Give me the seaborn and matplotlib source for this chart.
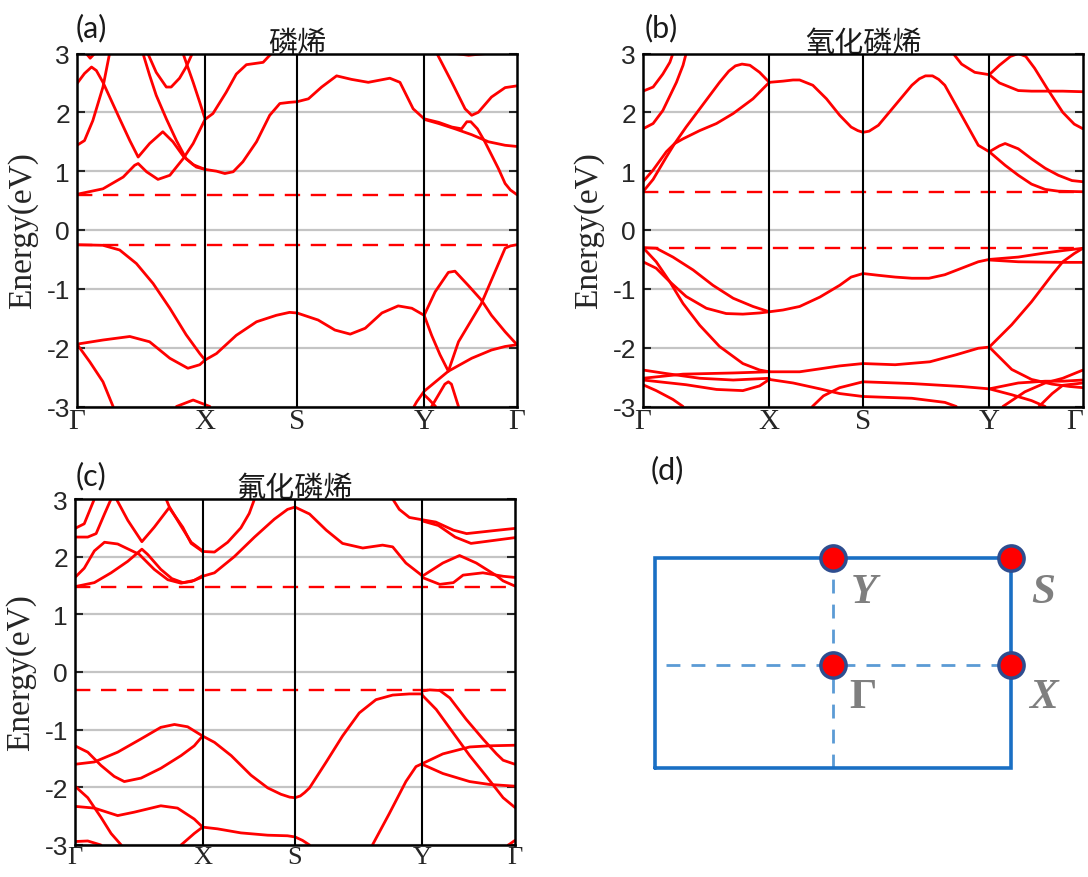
import matplotlib
matplotlib.use("Agg")
import matplotlib.pyplot as plt
import pandas as pd
import seaborn as sns

# high-symmetry path (fraction of the path length) and labels
kpath_labels = ["Γ", "X", "S", "Y", "Γ"]
kpts_a = [0, 0.291, 0.5, 0.789, 1.0]
kpts_b = [0, 0.287, 0.5, 0.787, 1.0]
kpts_c = [0, 0.29, 0.5, 0.789, 1.0]
titles = ["磷烯", "氧化磷烯", "氟化磷烯"]
panel_tags = ["(a)", "(b)", "(c)", "(d)"]
cbm = [0.60, 0.65, 1.47]
vbm = [-0.25, -0.30, -0.32]

# bands: lists of (k, energy)
bands_a = [
    [(0, -0.25), (0.059, -0.26), (0.097, -0.34), (0.135, -0.57), (0.173, -0.91), (0.211, -1.33),
     (0.248, -1.78), (0.279, -2.10), (0.291, -2.21)],
    [(0.291, -2.21), (0.317, -2.10), (0.362, -1.79), (0.408, -1.56), (0.453, -1.45), (0.483, -1.40),
     (0.5, -1.41), (0.548, -1.53), (0.586, -1.70), (0.621, -1.77), (0.655, -1.67), (0.693, -1.41),
     (0.73, -1.29), (0.761, -1.33), (0.789, -1.45)],
    [(0, -1.94), (0.059, -1.87), (0.12, -1.81), (0.165, -1.90), (0.211, -2.18), (0.252, -2.35),
     (0.279, -2.29), (0.291, -2.21)],
    [(0, -1.94), (0.029, -2.24), (0.059, -2.58), (0.082, -3.0)],
    [(0.226, -3.0), (0.264, -2.89), (0.302, -3.0)],
    [(0.789, -1.45), (0.814, -1.05), (0.844, -0.72), (0.859, -0.70), (0.889, -0.94), (0.919, -1.19),
     (0.942, -1.45), (0.973, -1.73), (1.0, -1.95)],
    [(1.0, -0.25), (0.985, -0.27), (0.973, -0.31), (0.919, -1.25), (0.867, -1.90), (0.844, -2.40)],
    [(0.789, -1.45), (0.806, -1.79), (0.825, -2.12), (0.844, -2.40)],
    [(0.766, -3.0), (0.772, -2.92), (0.789, -2.74), (0.844, -2.40), (0.897, -2.18), (0.942, -2.04),
     (0.973, -1.98), (1.0, -1.95)],
    [(0.806, -3.0), (0.836, -2.62), (0.844, -2.58), (0.851, -2.62), (0.867, -3.0)],
    [(0.789, -2.80), (0.80, -2.88), (0.815, -3.0)],
    [(0, 0.607), (0.059, 0.70), (0.105, 0.90), (0.131, 1.10), (0.139, 1.13), (0.158, 0.99),
     (0.184, 0.86), (0.211, 0.93), (0.241, 1.21), (0.264, 1.47), (0.291, 1.88), (0.309, 1.98),
     (0.339, 2.34), (0.362, 2.65), (0.385, 2.81), (0.423, 2.85), (0.438, 2.97), (0.442, 3.0)],
    [(0, 1.44), (0.017, 1.52), (0.036, 1.86), (0.059, 2.43), (0.074, 3.0)],
    [(0, 2.49), (0.017, 2.66), (0.033, 2.77), (0.044, 2.71), (0.059, 2.51), (0.097, 1.89),
     (0.12, 1.52), (0.139, 1.24), (0.165, 1.47), (0.195, 1.67), (0.218, 1.50), (0.241, 1.26),
     (0.264, 1.11), (0.291, 1.03), (0.317, 1.0), (0.336, 0.96), (0.355, 0.99), (0.377, 1.16),
     (0.408, 1.50), (0.438, 1.95), (0.461, 2.15), (0.483, 2.17), (0.5, 2.18), (0.526, 2.23),
     (0.556, 2.43), (0.59, 2.62), (0.624, 2.56), (0.662, 2.51), (0.711, 2.58), (0.734, 2.51),
     (0.764, 2.06), (0.789, 1.89), (0.822, 1.83), (0.852, 1.75), (0.874, 1.72), (0.886, 1.84),
     (0.895, 1.84), (0.91, 1.72), (0.927, 1.50), (0.958, 1.04), (0.973, 0.79), (0.985, 0.68),
     (1.0, 0.6)],
    [(0.789, 1.88), (0.822, 1.81), (0.859, 1.72), (0.897, 1.62), (0.935, 1.50), (0.973, 1.44),
     (1.0, 1.42)],
    [(0.818, 3.0), (0.852, 2.51), (0.882, 2.06), (0.897, 1.95), (0.912, 2.0), (0.942, 2.26),
     (0.973, 2.42), (1.0, 2.45)],
    [(0.15, 3.0), (0.165, 2.63), (0.18, 2.29), (0.203, 1.89), (0.226, 1.52), (0.248, 1.21),
     (0.271, 1.07), (0.291, 1.03)],
    [(0.161, 3.0), (0.18, 2.68), (0.203, 2.43), (0.214, 2.43), (0.233, 2.58), (0.248, 2.77),
     (0.262, 3.0)],
    [(0.241, 3.0), (0.248, 2.85), (0.264, 2.51), (0.279, 2.17), (0.291, 1.89)],
    [(0.021, 3.0), (0.03, 2.92), (0.04, 3.0)],
    [(0.86, 3.0), (0.89, 2.97), (0.93, 3.0)],
]

bands_b = [
    [(0, -0.30), (0.03, -0.31), (0.068, -0.46), (0.114, -0.68), (0.159, -0.94), (0.205, -1.16),
     (0.25, -1.30), (0.287, -1.39), (0.318, -1.36), (0.356, -1.30), (0.402, -1.14), (0.447, -0.94),
     (0.473, -0.80), (0.5, -0.74), (0.535, -0.77), (0.573, -0.80), (0.611, -0.82), (0.65, -0.82),
     (0.686, -0.76), (0.724, -0.65), (0.762, -0.54), (0.787, -0.50), (0.853, -0.46), (0.914, -0.39),
     (0.954, -0.35), (1.0, -0.31)],
    [(0.787, -0.51), (0.853, -0.54), (0.954, -0.55), (1.0, -0.55)],
    [(0, -0.30), (0.03, -0.54), (0.061, -0.88), (0.091, -1.25), (0.129, -1.62), (0.174, -1.98),
     (0.227, -2.27), (0.265, -2.38), (0.287, -2.41)],
    [(0, -0.54), (0.03, -0.65), (0.061, -0.88), (0.098, -1.13), (0.144, -1.33), (0.189, -1.42),
     (0.227, -1.43), (0.265, -1.41), (0.287, -1.39)],
    [(0.287, -2.41), (0.356, -2.41), (0.402, -2.36), (0.447, -2.31), (0.5, -2.27), (0.573, -2.29),
     (0.652, -2.24), (0.712, -2.12), (0.762, -2.01), (0.787, -1.99)],
    [(0.787, -1.99), (0.838, -1.61), (0.883, -1.22), (0.93, -0.76), (0.954, -0.54), (0.98, -0.40),
     (1.0, -0.31)],
    [(0.787, -1.99), (0.838, -2.37), (0.883, -2.54), (0.93, -2.62), (0.97, -2.66), (1.0, -2.68)],
    [(0, -2.38), (0.053, -2.44), (0.129, -2.52), (0.205, -2.55), (0.287, -2.52)],
    [(0, -2.52), (0.091, -2.45), (0.205, -2.43), (0.287, -2.41)],
    [(0, -2.55), (0.098, -2.63), (0.167, -2.71), (0.227, -2.73), (0.265, -2.65), (0.287, -2.54)],
    [(0, -2.63), (0.03, -2.73), (0.068, -2.88), (0.091, -3.0)],
    [(0.287, -2.54), (0.341, -2.60), (0.402, -2.70), (0.447, -2.78), (0.5, -2.83), (0.611, -2.86),
     (0.686, -2.93), (0.712, -3.0)],
    [(0.385, -3.0), (0.41, -2.82), (0.447, -2.68), (0.5, -2.58), (0.611, -2.61), (0.724, -2.66),
     (0.787, -2.70)],
    [(0.787, -2.70), (0.853, -2.60), (0.914, -2.57), (0.954, -2.57), (1.0, -2.55)],
    [(0.787, -2.70), (0.838, -2.80), (0.883, -2.90), (0.914, -3.0)],
    [(0.818, -3.0), (0.868, -2.75), (0.914, -2.60), (0.954, -2.52), (1.0, -2.38)],
    [(0.90, -3.0), (0.93, -2.78), (0.954, -2.64), (1.0, -2.60)],
    [(0, 2.36), (0.023, 2.43), (0.045, 2.65), (0.061, 2.85), (0.068, 3.0)],
    [(0, 1.72), (0.023, 1.81), (0.045, 2.03), (0.076, 2.51), (0.091, 2.80), (0.098, 3.0)],
    [(0, 0.82), (0.023, 1.02), (0.053, 1.33), (0.072, 1.47), (0.098, 1.75), (0.129, 2.06),
     (0.174, 2.51), (0.195, 2.70), (0.21, 2.79), (0.225, 2.82), (0.243, 2.80), (0.265, 2.68),
     (0.287, 2.51)],
    [(0, 0.65), (0.023, 0.86), (0.053, 1.24), (0.072, 1.47), (0.091, 1.55), (0.129, 1.69),
     (0.167, 1.81), (0.205, 1.98), (0.25, 2.23), (0.287, 2.51)],
    [(0.287, 2.51), (0.318, 2.53), (0.341, 2.55), (0.356, 2.55), (0.386, 2.46), (0.417, 2.23),
     (0.447, 1.95), (0.473, 1.75), (0.488, 1.69), (0.5, 1.66), (0.514, 1.68), (0.535, 1.78),
     (0.573, 2.12), (0.611, 2.46), (0.628, 2.57), (0.642, 2.62), (0.658, 2.62), (0.672, 2.56),
     (0.686, 2.46), (0.724, 1.95), (0.762, 1.44), (0.787, 1.33)],
    [(0.787, 1.33), (0.81, 1.43), (0.823, 1.47), (0.853, 1.38), (0.883, 1.21), (0.914, 1.05),
     (0.944, 0.93), (0.975, 0.84), (1.0, 0.82)],
    [(0.787, 1.33), (0.823, 1.10), (0.853, 0.93), (0.883, 0.78), (0.914, 0.69), (0.944, 0.66),
     (1.0, 0.65)],
    [(0.705, 3.0), (0.724, 2.82), (0.754, 2.68), (0.787, 2.64)],
    [(0.787, 2.64), (0.81, 2.80), (0.835, 2.95), (0.853, 3.0), (0.87, 2.95), (0.89, 2.75),
     (0.919, 2.40), (0.954, 2.0), (0.98, 1.80), (1.0, 1.72)],
    [(0.787, 2.64), (0.81, 2.50), (0.853, 2.37), (0.883, 2.36), (0.954, 2.36), (1.0, 2.35)],
]

bands_c = [
    [(0.29, -1.11), (0.317, -1.22), (0.355, -1.45), (0.4, -1.79), (0.438, -2.01), (0.468, -2.12),
     (0.488, -2.17), (0.5, -2.18), (0.512, -2.15), (0.522, -2.09), (0.533, -2.01), (0.571, -1.56),
     (0.608, -1.11), (0.646, -0.71), (0.684, -0.48), (0.722, -0.40), (0.76, -0.38), (0.789, -0.38)],
    [(0.789, -0.33), (0.806, -0.31), (0.829, -0.32), (0.852, -0.45), (0.889, -0.82), (0.927, -1.16),
     (0.958, -1.42), (0.973, -1.53), (1.0, -1.60)],
    [(0.789, -0.40), (0.821, -0.65), (0.859, -1.05), (0.897, -1.45), (0.935, -1.81), (0.973, -2.18),
     (1.0, -2.35)],
    [(0.789, -1.59), (0.836, -1.42), (0.897, -1.30), (0.942, -1.28), (1.0, -1.27)],
    [(0.789, -1.60), (0.836, -1.76), (0.897, -1.90), (0.942, -1.95), (1.0, -1.98)],
    [(0.676, -3.0), (0.714, -2.46), (0.752, -1.90), (0.775, -1.64), (0.789, -1.59)],
    [(0, -1.28), (0.029, -1.39), (0.059, -1.62), (0.089, -1.81), (0.112, -1.90), (0.15, -1.84),
     (0.195, -1.67), (0.241, -1.45), (0.271, -1.28), (0.29, -1.11)],
    [(0, -1.60), (0.044, -1.56), (0.097, -1.39), (0.15, -1.16), (0.195, -0.96), (0.226, -0.91),
     (0.256, -0.95), (0.29, -1.11)],
    [(0, -1.98), (0.029, -2.18), (0.059, -2.52), (0.082, -2.80), (0.105, -3.0)],
    [(0, -2.33), (0.044, -2.36), (0.097, -2.49), (0.135, -2.43), (0.195, -2.32), (0.233, -2.36),
     (0.271, -2.55), (0.29, -2.69), (0.324, -2.72), (0.377, -2.79), (0.438, -2.83), (0.483, -2.84),
     (0.5, -2.86), (0.517, -2.92), (0.533, -3.0)],
    [(0.241, -3.0), (0.271, -2.80), (0.29, -2.69)],
    [(0, -2.94), (0.029, -2.93), (0.059, -3.0)],
    [(0.985, -3.0), (1.0, -2.92)],
    [(0, 1.48), (0.044, 1.55), (0.082, 1.72), (0.12, 1.92), (0.146, 2.09), (0.152, 2.13),
     (0.165, 2.04), (0.195, 1.78), (0.22, 1.62), (0.245, 1.55), (0.265, 1.57), (0.29, 1.65)],
    [(0, 1.64), (0.021, 1.80), (0.044, 2.10), (0.067, 2.25), (0.097, 2.22), (0.146, 2.04),
     (0.18, 1.78), (0.211, 1.60), (0.241, 1.54), (0.271, 1.59), (0.29, 1.67)],
    [(0, 2.49), (0.021, 2.57), (0.044, 3.0)],
    [(0, 2.34), (0.029, 2.34), (0.048, 2.40), (0.067, 2.74), (0.082, 3.0)],
    [(0.094, 3.0), (0.12, 2.63), (0.152, 2.26), (0.18, 2.51), (0.214, 2.85), (0.245, 2.51),
     (0.264, 2.23), (0.29, 2.09)],
    [(0.207, 3.0), (0.214, 2.87), (0.241, 2.53), (0.264, 2.25), (0.29, 2.10)],
    [(0.29, 2.09), (0.317, 2.08), (0.347, 2.25), (0.377, 2.5), (0.396, 2.75), (0.408, 3.0)],
    [(0.29, 1.66), (0.317, 1.72), (0.362, 2.0), (0.408, 2.34), (0.453, 2.65), (0.483, 2.82),
     (0.5, 2.86), (0.533, 2.74), (0.571, 2.46), (0.608, 2.23), (0.654, 2.15), (0.699, 2.20),
     (0.722, 2.17), (0.752, 1.89), (0.789, 1.67)],
    [(0.722, 3.0), (0.737, 2.82), (0.76, 2.68), (0.789, 2.64), (0.82, 2.6), (0.86, 2.46),
     (0.89, 2.40), (0.95, 2.45), (1.0, 2.49)],
    [(0.789, 2.62), (0.826, 2.54), (0.864, 2.34), (0.9, 2.23), (0.95, 2.28), (1.0, 2.33)],
    [(0.789, 1.66), (0.836, 1.89), (0.874, 2.02), (0.912, 1.89), (0.958, 1.67), (0.973, 1.58),
     (1.0, 1.49)],
    [(0.789, 1.64), (0.829, 1.52), (0.86, 1.55), (0.882, 1.68), (0.927, 1.72), (0.973, 1.66),
     (1.0, 1.64)],
]

# Brillouin zone sketch for (d)
bz_x = [-1, 1, 1, -1, -1]
bz_y = [-0.58, -0.58, 0.6, 0.6, -0.58]
hs_names = ["Γ", "X", "Y", "S"]
hs_x = [0, 1, 0, 1]
hs_y = [0, 0, 0.6, 0.6]


def to_frame(bands):
    rows = []
    for i, band in enumerate(bands):
        for j, (k, e) in enumerate(band):
            rows.append((i, j, k, e))
    return pd.DataFrame(rows, columns=["band", "order", "k", "energy"])


def draw_panel(ax, bands, kpts, title, ec, ev, ksize=21):
    df = to_frame(bands)
    ax.set_xlim(0, 1)
    ax.set_ylim(-3, 3)
    ax.set_yticks(range(-3, 4))
    ax.grid(axis="y", color="#c4c4c4", lw=1.6, zorder=0)
    ax.grid(axis="x", visible=False)
    sns.lineplot(data=df, x="k", y="energy", units="band", estimator=None, sort=False,
                 color="red", lw=2.0, ax=ax, zorder=2, legend=False)
    for e in (ec, ev):
        ax.axhline(e, color="red", lw=1.7, dashes=(6.5, 4.5), zorder=2.5)
    for k in kpts[1:-1]:
        ax.axvline(k, color="black", lw=1.5, zorder=3)
    ax.set_xticks(kpts)
    ax.set_xticklabels(kpath_labels, fontfamily="Liberation Serif", fontsize=ksize)
    ax.tick_params(axis="x", length=0, pad=1)
    ax.tick_params(axis="y", direction="in", length=6, width=1.5, left=True, right=True,
                   labelsize=19, pad=5)
    for s in ax.spines.values():
        s.set_linewidth(1.8)
        s.set_color("black")
        s.set_zorder(4)
    ax.set_xlabel("")
    ax.set_ylabel("Energy(eV)", fontfamily="Liberation Serif", fontsize=24)
    ax.yaxis.set_label_coords(-0.088, 0.5)
    ax.set_title(title, fontfamily=["Noto Sans CJK SC", "DejaVu Sans"], fontsize=21,
                 pad=2, color="#1a1a1a")


sns.set_theme(style="white")
plt.rcParams["font.family"] = ["Liberation Sans", "DejaVu Sans"]
plt.rcParams["axes.unicode_minus"] = False

W, H = 1088, 878
fig = plt.figure(figsize=(W / 100, H / 100), dpi=100)

ax_a = fig.add_axes([77 / W, 1 - 407.5 / H, 440 / W, 353 / H])
ax_b = fig.add_axes([643 / W, 1 - 407.5 / H, 440 / W, 353 / H])
ax_c = fig.add_axes([75 / W, 1 - 846 / H, 440 / W, 346 / H])

draw_panel(ax_a, bands_a, kpts_a, titles[0], cbm[0], vbm[0])
draw_panel(ax_b, bands_b, kpts_b, titles[1], cbm[1], vbm[1])
draw_panel(ax_c, bands_c, kpts_c, titles[2], cbm[2], vbm[2], ksize=19)
# keep the last Γ of (b) inside the figure edge
ax_b.get_xticklabels()[-1].set_horizontalalignment("right")

tag_pos = [(76, 14), (645, 14), (76, 462), (651, 456)]
for tag, (px, py) in zip(panel_tags, tag_pos):
    fig.text(px / W, 1 - py / H, tag, fontfamily="Lato", fontsize=22, va="top", ha="left",
             color="#1a1a1a")

# (d) rectangular Brillouin zone
ax_d = fig.add_axes([620 / W, 0, 468 / W, 418 / H])
ax_d.set_xlim(-1.197, 1.433)
ax_d.set_ylim(-1.191, 1.157)
ax_d.axis("off")
ax_d.plot(bz_x, bz_y, color="#1a6fc4", lw=2.6, solid_joinstyle="miter", zorder=2)
ax_d.plot([-0.94, 1], [0, 0], color="#5b9bd5", lw=2.0, dashes=(5, 4), zorder=1)
ax_d.plot([0, 0], [-0.58, 0.6], color="#5b9bd5", lw=2.0, dashes=(5, 4), zorder=1)
sns.scatterplot(x=hs_x, y=hs_y, s=330, color="red", edgecolor="#2e4d8f", linewidth=2.5,
                ax=ax_d, zorder=5, legend=False)
lab_off = {"Γ": (0.17, -0.18), "X": (1.18, -0.18), "Y": (0.175, 0.41), "S": (1.18, 0.41)}
for name in hs_names:
    lx, ly = lab_off[name]
    ax_d.text(lx, ly, name, fontfamily="Liberation Serif", fontweight="bold",
              fontstyle="normal" if name == "Γ" else "italic", fontsize=31,
              color="#7f7f7f", ha="center", va="center")

fig.savefig("out.png", dpi=100)
